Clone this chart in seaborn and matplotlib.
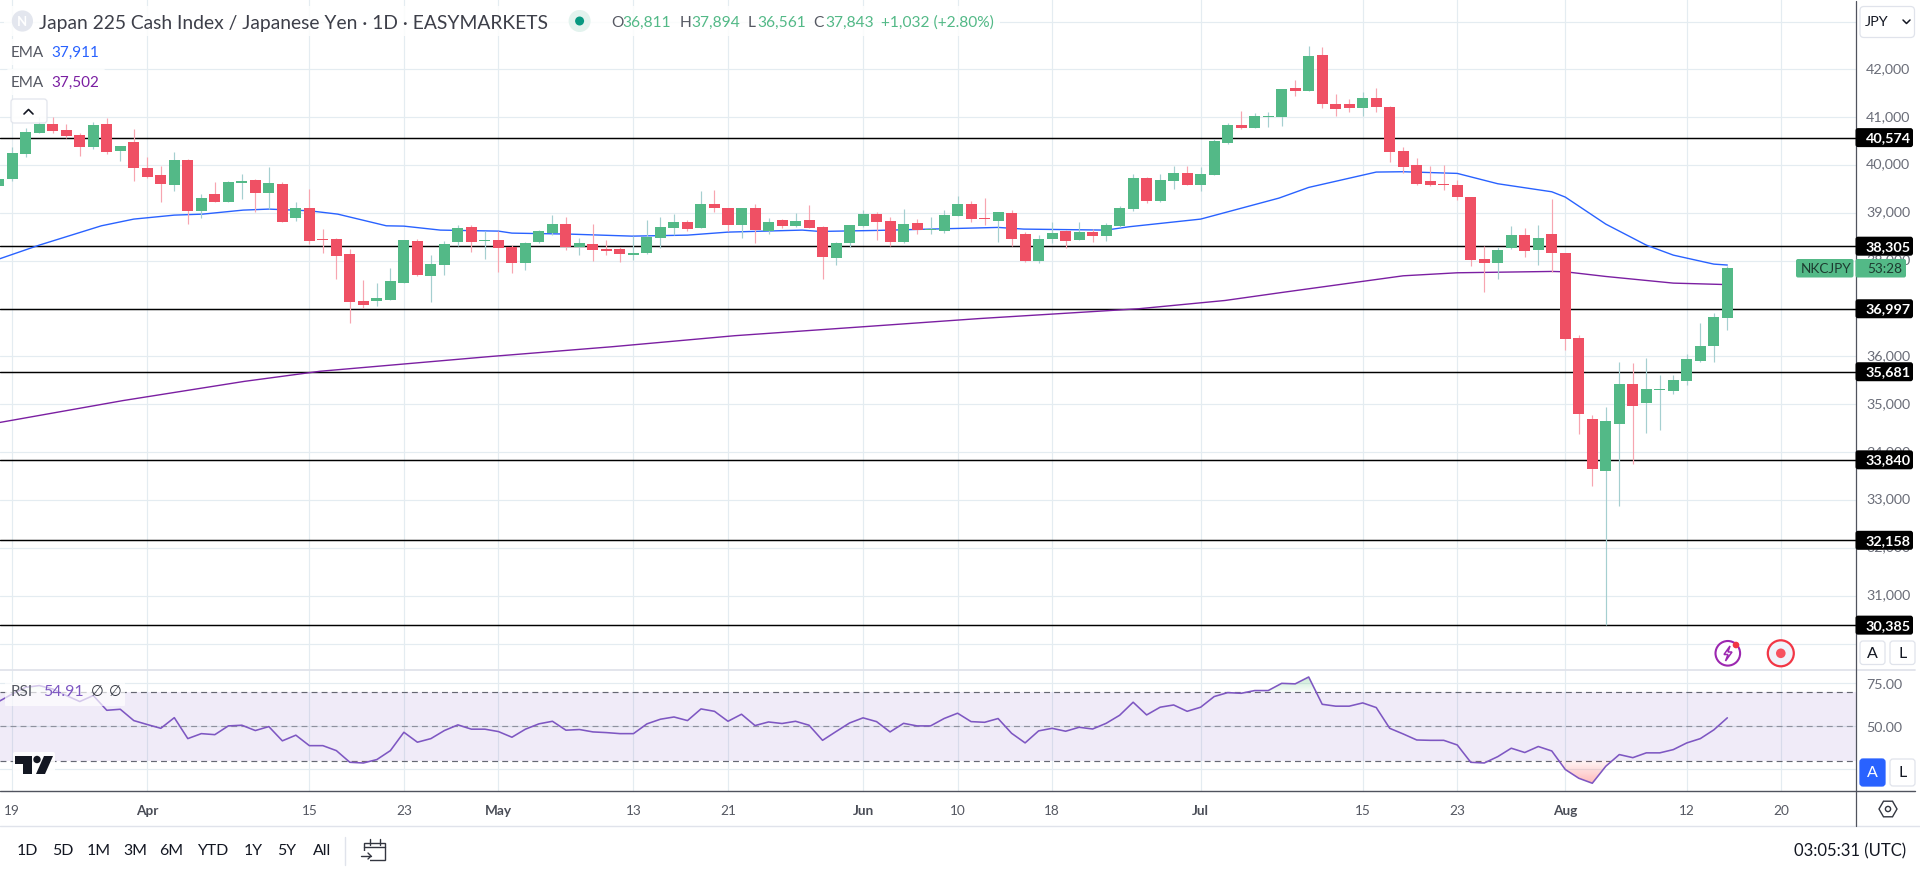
import numpy as np
import pandas as pd
import matplotlib
matplotlib.use("Agg")
import matplotlib.pyplot as plt
from matplotlib.patches import FancyBboxPatch, Circle, Polygon, Rectangle, PathPatch
from matplotlib.path import Path
from matplotlib.transforms import ScaledTranslation
import seaborn as sns

# ---------- data ----------
opens = [39561,39707,40230,40669,40857,40732,40627,40376,40857,40293,40481,39937,39791,39582,40105,39038,39394,39226,39624,39686,39414,39603,38892,39101,38453,38453,38139,37156,37156,37177,
         37533,38411,37679,37909,38390,38704,38418,38432,38285,37951,38390,38578,38766,38285,38348,38244,38244,38118,38160,38474,38683,38808,38683,39184,39101,38745,39101,38620,38850,38724,
         38850,38704,38055,38369,38724,38975,38829,38390,38787,38641,38620,38934,39184,38892,38829,38996,38557,37993,38453,38620,38432,38599,38515,38724,39080,39728,39247,39665,39833,39582,
         39791,40453,40836,40774,41011,41004,41610,41547,42300,41275,41275,41192,41401,41213,40293,40000,39665,39603,39582,39331,38035,37951,38265,38536,38223,38557,38160,36383,34689,33602,
         34584,35421,35023,35295,35274,35483,35902,36215,36811]
highs = [39720,40369,40767,41000,41004,40857,40669,40892,40983,40397,40753,40167,39979,40272,40125,39394,39651,39665,39812,39707,39958,39645,39226,39498,38662,38474,38244,37595,37533,37846,
         38432,38453,38118,38404,38745,38745,38620,38620,38327,38390,38641,38954,38913,38474,38766,38432,38285,38508,38850,38913,38975,38850,39456,39477,39101,39101,39184,38892,38871,38996,
         39163,38724,38390,38745,39059,39017,38913,39080,38871,38913,39059,39352,39247,39310,39017,39059,38599,38536,38808,38641,38808,38662,38787,39143,39812,39749,39812,39979,39979,39958,
         40544,40878,41129,41087,41108,41600,41777,42488,42467,41485,41380,41526,41610,41234,40376,40146,39979,40000,39686,39331,38306,38285,38724,38683,38745,39289,38160,36445,34773,34940,
         35881,35860,35964,35609,35609,36048,36696,36905,37894]
lows = [39545,39672,40174,40669,40669,40558,40195,40335,40230,40084,39665,39728,39226,39456,38766,38892,39226,39219,39289,39017,39080,38808,38829,38348,38160,37616,36696,37010,37052,37177,
        37533,37679,37135,37700,38306,38181,38035,37763,37742,37804,38369,38536,38223,38118,37993,38118,37972,38014,38139,38265,38536,38620,38683,39017,38620,38474,38369,38557,38683,38704,
        38683,37616,37909,38285,38704,38432,38306,38369,38557,38557,38578,38934,38808,38745,38390,38306,37972,37951,38369,38265,38432,38390,38411,38704,39038,39205,39226,39498,39582,39456,
        39791,40432,40753,40774,40795,40815,41443,41547,41192,41025,41108,41025,41108,40063,39833,39582,39561,39477,39268,37888,37344,37616,38244,38076,37909,37763,36132,34375,33288,30385,
        32870,33748,34396,34459,35212,35400,35881,35881,36561]
closes = [39707,40251,40683,40857,40711,40606,40376,40836,40272,40397,39937,39749,39603,40105,39038,39310,39226,39645,39665,39414,39624,38808,39101,38411,38439,38097,37135,37073,37219,37574,
          38432,37700,37930,38348,38683,38390,38432,38265,37951,38369,38620,38766,38285,38369,38223,38202,38139,38160,38501,38704,38808,38662,39184,39101,38745,39101,38641,38808,38724,38829,
          38683,38076,38369,38745,38975,38808,38390,38766,38641,38662,38954,39184,38871,38871,39017,38453,37993,38453,38578,38411,38599,38515,38745,39101,39728,39247,39686,39833,39582,39812,
          40502,40836,40774,41025,41025,41589,41547,42279,41275,41171,41192,41401,41213,40272,39958,39603,39582,39589,39331,38014,37951,38223,38536,38202,38474,38160,36362,34793,33643,34647,
          35421,34961,35316,35316,35504,35944,36215,36822,37843]

ema_fast_bars = [0,3,7.6,10,13,15.1,18.1,20,23,25.1,28.7,30,32.7,37,38,42.3,46.9,51,54,59.5,60.8,65,71,74,75.9,82,83.7,89,94.8,97,102,104,108,111,115,116,119,122,124,127,128]
ema_fast_vals = [38035,38327,38731,38871,38954,38975,39059,39080,39045,38975,38731,38724,38641,38620,38578,38557,38515,38536,38599,38641,38613,38634,38676,38697,38662,38641,38711,38871,39310,39533,39854,39861,39826,39610,39442,39331,38766,38327,38118,37930,37911]
ema_slow_bars = [0,9.2,18.2,23.8,36.4,45.4,54.5,63.6,72.6,84.4,90.8,95,104,108,115,116,119,124,128]
ema_slow_vals = [34617,35078,35480,35691,35999,36203,36434,36613,36792,36997,37170,37337,37686,37749,37777,37770,37672,37533,37502]

rsi_vals = [64.4,68.8,72.7,73.7,71.7,67.9,64.4,67.9,59.3,59.9,53.3,51.0,48.8,55.0,42.8,45.7,45.1,50.2,50.6,47.5,49.8,41.5,44.8,38.7,38.7,35.8,29.0,28.6,30.6,35.8,
            46.5,40.7,42.8,47.5,50.8,48.3,48.3,46.9,43.6,48.3,51.4,52.9,47.7,48.1,46.7,46.3,45.7,45.7,51.4,54.1,55.4,53.3,60.1,58.7,52.9,57.0,50.4,52.5,51.6,52.9,
            50.6,41.8,46.9,51.9,54.9,52.7,46.7,51.7,50.2,50.2,54.5,57.6,52.7,52.3,54.5,45.9,40.3,47.3,48.8,47.1,49.4,48.4,51.7,56.4,64.0,56.6,61.1,62.4,58.7,61.1,
            67.3,69.6,69.2,70.8,70.8,75.0,74.7,78.7,62.8,61.7,61.7,63.6,60.9,48.8,45.5,42.0,41.8,41.8,39.1,29.0,28.6,32.3,37.2,34.7,38.2,35.6,24.8,19.7,16.8,26.7,
            33.5,31.7,34.5,34.5,36.4,40.3,42.8,47.9,54.91]

levels = [40574,38305,36997,35681,33840,32158,30385]
price_ticks = [30000,31000,32000,33000,34000,35000,36000,37000,38000,39000,40000,41000,42000,43000]
price_tick_labels = ['','31,000','32,000','33,000','34,000','35,000','36,000','','38,000','39,000','40,000','41,000','42,000','']
time_tick_bars = [1,11,23,30,37,47,54,64,71,78,89,101,108,116,125,132]
time_tick_labels = ['19','Apr','15','23','May','13','21','Jun','10','18','Jul','15','23','Aug','12','20']
month_labels = ['Apr','May','Jun','Jul','Aug']
ranges = ['1D','5D','1M','3M','6M','YTD','1Y','5Y','All']
title_text = 'Japan 225 Cash Index / Japanese Yen · 1D · EASYMARKETS'

# ---------- style ----------
sns.set_theme(style="white")
FONT = ['Lato', 'DejaVu Sans']
plt.rcParams['font.family'] = FONT
GRID = '#e4ecf1'; UP = '#53b987'; DOWN = '#ef5064'
UPW = '#a5cfd0'; DOWNW = '#f7a5b0'; BLUE = '#2962ff'; PURPLE = '#7b1fa2'; RSI = '#7e57c2'
AXT = '#6a6d78'; INK = '#131722'

W, H = 1920, 870
AXR, MAIN_B, RSI_T, RSI_B = 1855.5, 671.3, 671.3, 792.3
fig = plt.figure(figsize=(W/100, H/100), dpi=100, facecolor='white')
ax = fig.add_axes([0, 1-MAIN_B/H, AXR/W, MAIN_B/H])
rx = fig.add_axes([0, 1-RSI_B/H, AXR/W, (RSI_B-RSI_T)/H])

bars = np.arange(len(opens))
df = pd.DataFrame(dict(bar=bars, o=opens, h=highs, l=lows, c=closes, rsi=rsi_vals))
df['up'] = df.c >= df.o
XL = (0.0926, 137.49)

# ---------- price pane ----------
for lv in levels:
    ax.axhline(lv, color='black', lw=1.05, zorder=3)
sns.lineplot(x=ema_fast_bars, y=ema_fast_vals, ax=ax, color=BLUE, lw=1.0, estimator=None, errorbar=None, sort=False, zorder=3.4, legend=False)
sns.lineplot(x=ema_slow_bars, y=ema_slow_vals, ax=ax, color=PURPLE, lw=1.0, estimator=None, errorbar=None, sort=False, zorder=3.4, legend=False)
ax.vlines(df.bar, df.l, df.h, colors=[UPW if u else DOWNW for u in df.up], lw=0.85, zorder=4)
ax.bar(df.bar, (df.c-df.o).abs().clip(lower=20), bottom=df[['o','c']].min(axis=1), width=0.815,
       color=[UP if u else DOWN for u in df.up], linewidth=0, zorder=5)
ax.set_xlim(*XL)
ax.set_ylim(29441, 43471)
ax.set_yticks(price_ticks); ax.set_yticklabels(price_tick_labels)
ax.set_xticks(time_tick_bars); ax.set_xticklabels([])
ax.yaxis.tick_right()
ax.tick_params(axis='y', length=0, pad=7.6, labelsize=10.3, labelcolor=AXT)
ax.tick_params(axis='x', length=0)
ax.grid(True, color=GRID, lw=0.85, zorder=0); ax.set_axisbelow(True)
for s in ax.spines.values(): s.set_visible(False)
lift = ScaledTranslation(0, 2.5/100, fig.dpi_scale_trans)
for t in ax.get_yticklabels():
    t.set_transform(t.get_transform() + lift)

# ---------- RSI pane ----------
rx.axhspan(30, 70, color=RSI, alpha=0.115, lw=0, zorder=1)
for lv, al in [(70, .95), (50, .6), (30, .95)]:
    rx.axhline(lv, color='#5d606b', lw=0.85, ls=(0, (5, 3.5)), alpha=al, zorder=2)
sns.lineplot(data=df, x='bar', y='rsi', ax=rx, color=RSI, lw=1.15, estimator=None, errorbar=None, zorder=4, legend=False)
grad = np.linspace(0, 1, 64).reshape(-1, 1)
red = np.zeros((64, 1, 4)); red[..., :3] = (1, .32, .32); red[..., 3] = .42 - .37*grad
grn = np.zeros((64, 1, 4)); grn[..., :3] = (.2, .7, .35); grn[..., 3] = .03 + .25*grad
p1 = rx.fill_between(df.bar, df.rsi, 30, where=df.rsi < 30, interpolate=True, color='none', lw=0)
p2 = rx.fill_between(df.bar, df.rsi, 70, where=df.rsi > 70, interpolate=True, color='none', lw=0)
RL = (12.1, 82.6)
im1 = rx.imshow(red, extent=(XL[0], XL[1], 16, 30), origin='lower', aspect='auto', zorder=3)
im2 = rx.imshow(grn, extent=(XL[0], XL[1], 70, 79), origin='lower', aspect='auto', zorder=3)
for im, p in ((im1, p1), (im2, p2)):
    comp = Path.make_compound_path(*p.get_paths())
    im.set_clip_path(PathPatch(comp, transform=rx.transData))
rx.set_xlim(*XL); rx.set_ylim(*RL)
rx.set_yticks([25, 50, 75]); rx.set_yticklabels(['', '50.00', '75.00'])
rx.set_xticks(time_tick_bars); rx.set_xticklabels(time_tick_labels)
rx.yaxis.tick_right(); rx.set_xlabel(''); rx.set_ylabel('')
rx.tick_params(axis='y', length=0, pad=7.6, labelsize=10.3, labelcolor=AXT)
rx.tick_params(axis='x', length=0, pad=8.8, labelsize=9.8, labelcolor='#555862')
for t in rx.get_xticklabels():
    if t.get_text() in month_labels:
        t.set_fontweight('bold'); t.set_color('#4a4d57')
rx.grid(True, color=GRID, lw=0.85, zorder=0); rx.set_axisbelow(True)
for s in rx.spines.values(): s.set_visible(False)

# ---------- overlay: chart furniture in pixel space ----------
ov = fig.add_axes([0, 0, 1, 1], facecolor='none'); ov.set_xlim(0, W); ov.set_ylim(H, 0); ov.axis('off')
def box(x0, y0, x1, y1, fc='white', ec='none', r=3, lw=0.9, alpha=1, z=5):
    ov.add_patch(FancyBboxPatch((x0+r, y0+r), x1-x0-2*r, y1-y0-2*r, boxstyle=f'round,pad={r},rounding_size={r}',
                                fc=fc, ec=ec, lw=lw, alpha=alpha, zorder=z))
def txt(x, y, s, size=10, color=INK, ha='left', weight='normal', z=7):
    return ov.text(x, y, s, fontsize=size, color=color, ha=ha, va='center', weight=weight, zorder=z, family=FONT)

# frame lines
ov.plot([0, 1915], [RSI_T, RSI_T], color='#e0e3eb', lw=1.3, zorder=2)
ov.plot([0, 1915], [RSI_B, RSI_B], color='#50535e', lw=1.0, zorder=2)
ov.plot([0, 1920], [827.3, 827.3], color='#e0e3eb', lw=1.0, zorder=2)
ov.plot([AXR, AXR], [2, 827], color='#50535e', lw=0.9, zorder=2)

# price level tags
y_of = lambda v: ov.transData.inverted().transform(ax.transData.transform((0, v)))[1]
for lv in levels:
    yy = y_of(lv)
    box(AXR, yy-9.5, 1913, yy+9.5, fc='black', r=2.5)
    txt(1866, yy-0.5, f'{lv:,}', size=10.4, color='white', weight='bold')
# symbol countdown tag
box(1796, 260, 1853.5, 278.5, fc=UP, r=2); box(1855.5, 260, 1906, 278.5, fc=UP, r=2)
txt(1801, 269, 'NKCJPY', size=9.8, color='#1d3b30'); txt(1867, 269, '53:28', size=9.8, color='#1d3b30')

# header
box(4, 7, 1000, 37, fc='white', alpha=.85, z=4)
box(6, 40, 106, 66, fc='white', alpha=.85, z=4); box(6, 70, 106, 96, fc='white', alpha=.85, z=4)
ov.add_patch(Circle((22.4, 22), 10.6, fc='#e3e6ee', ec='none', zorder=6))
txt(22.4, 22, 'N', size=9.5, color='white', ha='center', weight='bold')
txt(39, 23, title_text, size=13.9, color='#3d3f49')
ov.add_patch(Circle((579.6, 22), 11, fc='#e3f3ee', ec='none', zorder=6))
ov.add_patch(Circle((579.6, 22), 4.5, fc='#089981', ec='none', zorder=7))
for xl, lab, xv, val in [(611, 'O', 622, '36,811'), (680, 'H', 691, '37,894'), (748, 'L', 757, '36,561'), (813, 'C', 825, '37,843')]:
    txt(xl, 23, lab, size=11.2, color='#555862'); txt(xv, 23, val, size=11.2, color=UP)
txt(881, 23, '+1,032 (+2.80%)', size=11.2, color=UP)
txt(11, 53, 'EMA', size=11, color='#555862'); txt(51, 53, '37,911', size=11, color=BLUE)
txt(11, 83, 'EMA', size=11, color='#555862'); txt(51, 83, '37,502', size=11, color=PURPLE)
box(11, 100, 47, 124, fc='white', ec='#dfe2ea', r=3, alpha=.9)
ov.plot([24, 28.5, 33], [115, 110.5, 115], color=INK, lw=1.2, zorder=7)
# JPY button
box(1860, 7.5, 1914.5, 38.5, fc='white', ec='#e0e3eb', r=4)
txt(1865, 22.5, 'JPY', size=10.4, color=INK)
ov.plot([1903, 1906.5, 1910], [21, 24.5, 21], color=INK, lw=1.1, zorder=7)
# auto / log buttons
for (y0, y1, blue) in [(642, 665.5, False), (760, 787, True)]:
    box(1860, y0, 1885, y1, fc=BLUE if blue else 'white', ec=BLUE if blue else '#e0e3eb', r=3)
    box(1890, y0, 1915, y1, fc='white', ec='#e0e3eb', r=3)
    txt(1872.5, (y0+y1)/2, 'A', size=11.5, color='white' if blue else INK, ha='center')
    txt(1902.5, (y0+y1)/2, 'L', size=11.5, color=INK, ha='center')
# pane icons
ov.add_patch(Circle((1727.8, 654.3), 12.3, fc='white', ec='#9c27b0', lw=1.5, zorder=6))
ov.add_patch(Polygon([(1730, 647), (1724, 655.5), (1728, 655.5), (1725.5, 662), (1732, 653), (1728, 653)], closed=True, fc='white', ec='#9c27b0', lw=1.1, zorder=7))
ov.add_patch(Circle((1736, 646), 3.3, fc='#f23645', ec='none', zorder=8))
ov.add_patch(Circle((1780.8, 654.3), 13, fc='#f0f3fa', ec='#f23645', lw=1.6, zorder=6))
ov.add_patch(Circle((1780.8, 654.3), 4.8, fc='#f7525f', ec='none', zorder=7))
# RSI legend
box(5, 683, 125, 707, fc='white', alpha=.68, r=1, z=4)
txt(11, 692, 'RSI', size=11, color='#555862'); txt(43.5, 692, '54.91', size=11.4, color=RSI)
txt(90.5, 692, '∅', size=10.5, color='#333640'); txt(108.5, 692, '∅', size=10.5, color='#333640')
# logo
box(13, 753, 55, 776, fc='white', alpha=.9, r=2, z=4)
ov.add_patch(Polygon([(15, 757), (31.5, 757), (31.5, 775), (23, 775), (23, 765), (15, 765)], closed=True, fc=INK, ec='none', zorder=6))
ov.add_patch(Circle((37, 760.5), 3.7, fc=INK, ec='none', zorder=6))
ov.add_patch(Polygon([(44, 757), (53, 757), (45, 775), (36, 775)], closed=True, fc=INK, ec='none', zorder=6))
# gear hexagon
ang = np.deg2rad(np.arange(0, 360, 60))
ov.add_patch(Polygon(np.c_[1888+9*np.cos(ang), 810+9*np.sin(ang)], closed=True, fc='none', ec='#333640', lw=1.0, zorder=6))
ov.add_patch(Circle((1888, 810), 2.6, fc='none', ec='#333640', lw=1.0, zorder=6))
# bottom bar
for xc, s in zip([27.8, 62.4, 98.8, 135, 171.4, 212.7, 253, 287, 321.6], ranges):
    txt(xc, 851.5, s, size=11.4, color=INK, ha='center')
ov.plot([345.3, 345.3], [838, 866], color='#e0e3eb', lw=1.0, zorder=3)
ov.add_patch(Rectangle((364, 843.5), 21, 17.5, fc='none', ec='#333640', lw=1.0, zorder=6))
ov.add_patch(Rectangle((360, 852), 10, 11, fc='white', ec='none', zorder=6.5))
ov.plot([361, 371], [857, 857], color='#333640', lw=1.0, zorder=7)
ov.plot([368, 371, 368], [854, 857, 860], color='#333640', lw=1.0, zorder=7)
ov.plot([370, 370], [840, 846], color='#333640', lw=1.0, zorder=7); ov.plot([380, 380], [840, 846], color='#333640', lw=1.0, zorder=7)
ov.plot([364, 385], [848, 848], color='#333640', lw=1.0, zorder=7)
txt(1906.5, 851.5, '03:05:31 (UTC)', size=12, color=INK, ha='right')

fig.savefig('out.png', dpi=100, facecolor='white')
